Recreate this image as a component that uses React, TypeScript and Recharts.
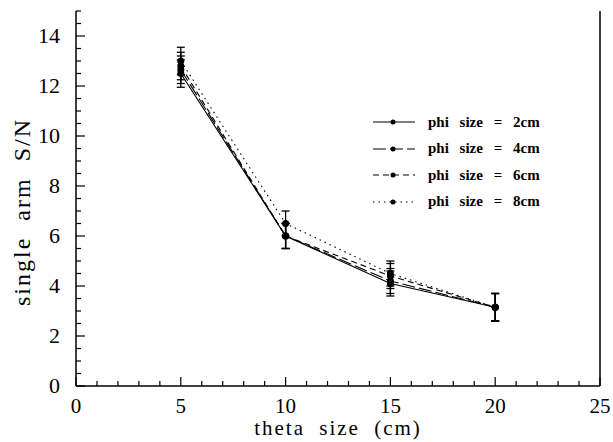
import React from 'react';
import { LineChart, Line, XAxis, YAxis, ErrorBar } from 'recharts';

// theta size (cm)
const thetaSizes = [5, 10, 15, 20];

// single arm S/N for each phi size
const phi2cm = [12.5, 6.0, 4.1, 3.15];
const phi4cm = [12.65, 6.0, 4.2, 3.15];
const phi6cm = [12.8, 6.0, 4.4, 3.15];
const phi8cm = [13.0, 6.5, 4.5, 3.15];

// error bar half-heights
const snError = [0.55, 0.5, 0.5, 0.55];

const xMajorTicks = [0, 5, 10, 15, 20, 25];
const xAllTicks = [0, 1, 2, 3, 4, 5, 6, 7, 8, 9, 10, 11, 12, 13, 14, 15, 16, 17, 18, 19, 20, 21, 22, 23, 24, 25];
const yMajorTicks = [0, 2, 4, 6, 8, 10, 12, 14];
const yAllTicks = [
  0, 0.5, 1, 1.5, 2, 2.5, 3, 3.5, 4, 4.5, 5, 5.5, 6, 6.5, 7, 7.5, 8, 8.5, 9, 9.5, 10, 10.5, 11, 11.5, 12, 12.5,
  13, 13.5, 14, 14.5, 15,
];

const series = [
  { key: 'p2', label: 'phi size = 2cm', values: phi2cm, dash: undefined },
  { key: 'p4', label: 'phi size = 4cm', values: phi4cm, dash: '13 4' },
  { key: 'p6', label: 'phi size = 6cm', values: phi6cm, dash: '6 4' },
  { key: 'p8', label: 'phi size = 8cm', values: phi8cm, dash: '1.5 4' },
];

const data = thetaSizes.map((x, i) => {
  const row: Record<string, number> = { x, err: snError[i] };
  series.forEach((s) => {
    row[s.key] = s.values[i];
  });
  return row;
});

const FONT = "'Liberation Serif', 'DejaVu Serif', serif";
const textStyle = { fontFamily: FONT };
const MAJOR_LEN = 9;
const MINOR_LEN = 5;

// ticks drawn inward from each side of the frame
const BottomTick = (props: any) => {
  const { x, y, payload } = props;
  const major = xMajorTicks.includes(payload.value);
  return (
    <g>
      <line x1={x} y1={y} x2={x} y2={y - (major ? MAJOR_LEN : MINOR_LEN)} stroke="#000" strokeWidth={1.2} />
      {major && (
        <text x={x} y={y + 27} textAnchor="middle" style={textStyle} fontSize={21} fill="#000">
          {payload.value}
        </text>
      )}
    </g>
  );
};

const TopTick = (props: any) => {
  const { x, y, payload } = props;
  const major = xMajorTicks.includes(payload.value);
  return <line x1={x} y1={y} x2={x} y2={y + (major ? MAJOR_LEN : MINOR_LEN)} stroke="#000" strokeWidth={1.2} />;
};

const LeftTick = (props: any) => {
  const { x, y, payload } = props;
  const major = yMajorTicks.includes(payload.value);
  return (
    <g>
      <line x1={x} y1={y} x2={x + (major ? MAJOR_LEN : MINOR_LEN)} y2={y} stroke="#000" strokeWidth={1.2} />
      {major && (
        <text x={x - 16} y={y + 7} textAnchor="end" style={textStyle} fontSize={22} fill="#000">
          {payload.value}
        </text>
      )}
    </g>
  );
};

const RightTick = (props: any) => {
  const { x, y, payload } = props;
  const major = yMajorTicks.includes(payload.value);
  return <line x1={x} y1={y} x2={x - (major ? MAJOR_LEN : MINOR_LEN)} y2={y} stroke="#000" strokeWidth={1.2} />;
};

const LegendBox = () => (
  <div style={{ position: 'absolute', left: 372, top: 109, fontFamily: FONT }}>
    {series.map((s) => (
      <div key={s.key} style={{ display: 'flex', alignItems: 'center', height: 26.5 }}>
        <svg width={44} height={10} style={{ display: 'block' }}>
          <line x1={1} y1={5} x2={43} y2={5} stroke="#000" strokeWidth={1.2} strokeDasharray={s.dash} />
          <circle cx={21} cy={5} r={2.5} fill="#000" />
        </svg>
        <span style={{ marginLeft: 12, fontSize: 15, fontWeight: 'bold', wordSpacing: 7, whiteSpace: 'nowrap' }}>
          {s.label}
        </span>
      </div>
    ))}
  </div>
);

export default function App() {
  return (
    <div style={{ position: 'absolute', left: 0, top: 0, width: 613, height: 442, background: '#fff' }}>
      <LineChart width={613} height={442} data={data} margin={{ top: 11, right: 0, bottom: 0, left: 0 }}>
        <XAxis
          xAxisId="bottom"
          dataKey="x"
          type="number"
          domain={[0, 25]}
          ticks={xAllTicks}
          interval={0}
          height={56}
          tickSize={0}
          tickMargin={0}
          tickLine={false}
          tick={<BottomTick />}
          axisLine={{ stroke: '#000', strokeWidth: 1.5 }}
        />
        <XAxis
          xAxisId="top"
          orientation="top"
          dataKey="x"
          type="number"
          domain={[0, 25]}
          ticks={xAllTicks}
          interval={0}
          height={0}
          tickSize={0}
          tickMargin={0}
          tickLine={false}
          tick={<TopTick />}
          axisLine={{ stroke: '#000', strokeWidth: 1.5 }}
        />
        <YAxis
          yAxisId="left"
          type="number"
          domain={[0, 15]}
          ticks={yAllTicks}
          interval={0}
          width={76}
          tickSize={0}
          tickMargin={0}
          tickLine={false}
          tick={<LeftTick />}
          axisLine={{ stroke: '#000', strokeWidth: 1.5 }}
        />
        <YAxis
          yAxisId="right"
          orientation="right"
          type="number"
          domain={[0, 15]}
          ticks={yAllTicks}
          interval={0}
          width={13}
          tickSize={0}
          tickMargin={0}
          tickLine={false}
          tick={<RightTick />}
          axisLine={{ stroke: '#000', strokeWidth: 1.5 }}
        />
        {series.map((s) => (
          <Line
            key={s.key}
            xAxisId="bottom"
            yAxisId="left"
            dataKey={s.key}
            type="linear"
            stroke="#000"
            strokeWidth={1.1}
            strokeDasharray={s.dash}
            dot={{ r: 3.5, fill: '#000', stroke: '#000', strokeWidth: 0, strokeDasharray: '' }}
            isAnimationActive={false}
          >
            <ErrorBar dataKey="err" width={4} stroke="#000" strokeWidth={1.3} direction="y" />
          </Line>
        ))}
        <text x={338} y={435} textAnchor="middle" style={textStyle} fontSize={21} letterSpacing={2} wordSpacing={7} fill="#000">
          theta size (cm)
        </text>
        <text
          x={30}
          y={212}
          textAnchor="middle"
          style={textStyle}
          fontSize={24}
          letterSpacing={2}
          wordSpacing={8}
          fill="#000"
          transform="rotate(-90 30 212)"
        >
          single arm S/N
        </text>
      </LineChart>
      <LegendBox />
    </div>
  );
}
